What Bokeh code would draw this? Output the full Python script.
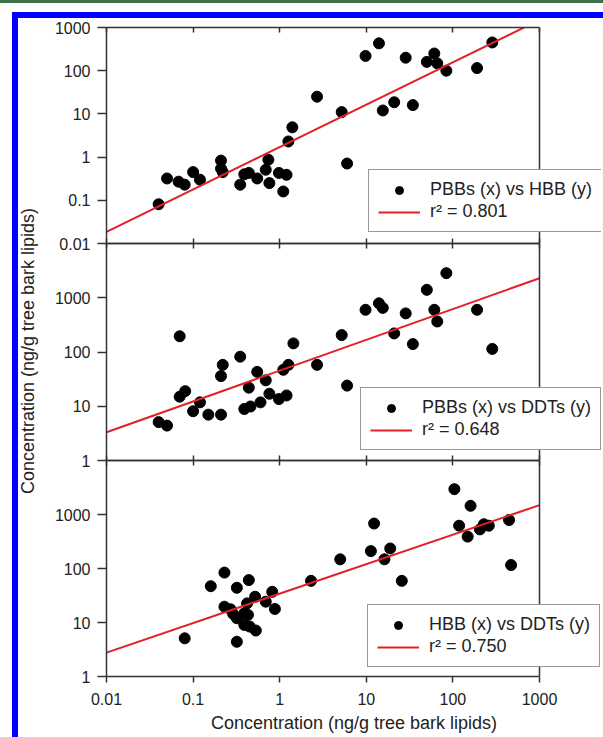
import numpy as np
from bokeh.plotting import figure
from bokeh.models import (Range1d, FixedTicker, LogAxis, CustomJSTickFormatter,
                          Legend, LegendItem, Div, Spacer, Span)
from bokeh.layouts import column, row
from bokeh.embed import file_html
from bokeh.resources import INLINE

# ---------------- data ----------------
X_TICKS = [0.01, 0.1, 1, 10, 100, 1000]
Y1_TICKS = [0.01, 0.1, 1, 10, 100, 1000]
Y23_TICKS = [1, 10, 100, 1000]
X_LIMITS = [0.01, 1000]
Y1_LIMITS = [0.01, 1000]
Y23_LIMITS = [1, 10000]

# Panel 1: PBBs (x) vs HBB (y)
pbb_x1 = [0.040, 0.050, 0.068, 0.080, 0.10, 0.12, 0.21, 0.21, 0.22, 0.35,
          0.39, 0.44, 0.55, 0.69, 0.74, 0.76, 0.98, 1.1, 1.2, 1.26,
          1.4, 2.7, 5.2, 6.0, 9.8, 14, 15.5, 21, 28.5, 34.5,
          50, 61, 66, 84, 190, 285]
hbb_y1 = [0.081, 0.32, 0.27, 0.23, 0.45, 0.30, 0.83, 0.54, 0.45, 0.23,
          0.40, 0.43, 0.32, 0.51, 0.87, 0.25, 0.43, 0.16, 0.39, 2.3,
          4.9, 25, 11, 0.71, 220, 430, 12, 18.6, 200, 16,
          160, 250, 148, 100, 115, 450]

# Panel 2: PBBs (x) vs DDTs (y)
pbb_x2 = [0.040, 0.050, 0.070, 0.070, 0.081, 0.10, 0.12, 0.15, 0.21, 0.22,
          0.21, 0.35, 0.39, 0.44, 0.46, 0.55, 0.60, 0.69, 0.76, 0.98,
          1.1, 1.2, 1.26, 1.44, 2.7, 5.2, 6.0, 9.8, 14, 15.5,
          21, 28.5, 34.5, 50, 61, 66, 84, 190, 285]
ddt_y2 = [5.1, 4.4, 195, 15, 19, 8.1, 11.8, 7.0, 36, 58,
          7.0, 82, 8.9, 22, 9.9, 43, 11.8, 30, 17, 13.6,
          47, 15.8, 58, 144, 58, 205, 24, 600, 790, 650,
          220, 515, 140, 1400, 600, 365, 2840, 600, 114]

# Panel 3: HBB (x) vs DDTs (y)
hbb_x3 = [0.080, 0.16, 0.23, 0.23, 0.27, 0.29, 0.32, 0.32, 0.32, 0.39,
          0.39, 0.42, 0.44, 0.43, 0.45, 0.52, 0.53, 0.69, 0.82, 0.88,
          2.3, 5.0, 11.3, 12.3, 16.2, 18.9, 25.7, 104, 118, 148,
          160, 205, 228, 260, 445, 470]
ddt_y3 = [5.1, 47, 84, 19.6, 17.6, 14.4, 44, 12, 4.4, 14.8,
          9.0, 22.6, 61, 13.8, 8.4, 30, 7.1, 24.3, 37, 17.8,
          59, 148, 210, 680, 148, 235, 59, 2950, 620, 390,
          1450, 530, 660, 620, 790, 116]

# log-log regression lines: log10(y) = intercept + slope * log10(x)
fit_slopes = [0.981, 0.568, 0.546]
fit_intercepts = [0.232, 1.656, 1.535]

series_labels = ["PBBs (x) vs HBB (y)", "PBBs (x) vs DDTs (y)", "HBB (x) vs DDTs (y)"]
r2_labels = ["r\u00b2 = 0.801", "r\u00b2 = 0.648", "r\u00b2 = 0.750"]
axis_title = "Concentration (ng/g tree bark lipids)"

# ---------------- layout / styling constants ----------------
FONT = "Liberation Sans"
TXT = "#222222"
AX = "#333333"
RED = "#e3202a"
BLUE = "#0000ff"
GREEN = "#3c7048"

FIG_W = 563          # figure width
BORDER_L = 68        # left border (tick labels)
DECADE_PX = 86.6     # pixels per x decade in the reference
EXTRA_PX = FIG_W - BORDER_L - DECADE_PX * 5   # frame room right of x=1000 (for legends)
X_VIEW_END = 10 ** (np.log10(X_LIMITS[1]) + EXTRA_PX / DECADE_PX)
OVL = 10             # overlap between stacked canvases

num_fmt = CustomJSTickFormatter(
    code="return tick >= 1 ? tick.toFixed(0) : String(Number(tick.toPrecision(1)));")
blank_fmt = CustomJSTickFormatter(code="return '';")


def style_hidden_axis(ax):
    ax.bounds = tuple(X_LIMITS)
    ax.major_tick_in = 5
    ax.major_tick_out = 0
    ax.minor_tick_line_color = None
    ax.major_label_standoff = 0
    ax.major_label_text_font_size = "0px"
    ax.formatter = blank_fmt
    ax.axis_line_color = AX
    ax.axis_line_width = 1.5
    ax.major_tick_line_color = AX
    ax.major_tick_line_width = 1.5


def make_panel(xs, ys, k, y_limits, y_ticks, height, mb_top, mb_bottom,
               leg_loc, bottom_labels):
    p = figure(width=FIG_W, height=height, x_axis_type="log", y_axis_type="log",
               x_range=Range1d(X_LIMITS[0], X_VIEW_END), y_range=Range1d(*y_limits),
               output_backend="svg", toolbar_location=None,
               min_border_left=BORDER_L, min_border_right=0,
               min_border_top=mb_top, min_border_bottom=mb_bottom,
               background_fill_color=None, border_fill_color=None)
    p.grid.visible = False
    p.outline_line_color = None

    # left y axis
    ya = p.yaxis[0]
    ya.ticker = FixedTicker(ticks=y_ticks, minor_ticks=[])
    ya.formatter = num_fmt
    ya.major_tick_out = 9
    ya.major_tick_in = 0
    ya.minor_tick_line_color = None
    ya.major_label_standoff = 7
    ya.major_label_text_font = FONT
    ya.major_label_text_font_size = "16px"
    ya.major_label_text_color = TXT
    ya.axis_line_color = AX
    ya.axis_line_width = 1.5
    ya.major_tick_line_color = AX
    ya.major_tick_line_width = 1.5

    # bottom x axis
    xa = p.xaxis[0]
    xa.ticker = FixedTicker(ticks=X_TICKS, minor_ticks=[])
    if bottom_labels:
        xa.bounds = tuple(X_LIMITS)
        xa.formatter = num_fmt
        xa.major_tick_out = 6
        xa.major_tick_in = 0
        xa.minor_tick_line_color = None
        xa.major_label_standoff = 10
        xa.major_label_text_font = FONT
        xa.major_label_text_font_size = "16px"
        xa.major_label_text_color = TXT
        xa.axis_line_color = AX
        xa.axis_line_width = 1.5
        xa.major_tick_line_color = AX
        xa.major_tick_line_width = 1.5
        xa.axis_label = axis_title
        xa.axis_label_text_font = FONT
        xa.axis_label_text_font_size = "18px"
        xa.axis_label_text_font_style = "normal"
        xa.axis_label_text_color = TXT
        xa.axis_label_standoff = 5
    else:
        style_hidden_axis(xa)

    # top axis with inward ticks
    top = LogAxis(ticker=FixedTicker(ticks=X_TICKS, minor_ticks=[]))
    style_hidden_axis(top)
    p.add_layout(top, "above")

    # right frame edge at x = 1000
    p.add_layout(Span(location=X_LIMITS[1], dimension="height",
                      line_color=AX, line_width=1.5))

    # points and regression line
    sc = p.scatter(xs, ys, size=11, fill_color="black", line_color="black")
    xf = np.array(X_LIMITS, dtype=float)
    yf = 10 ** (fit_intercepts[k] + fit_slopes[k] * np.log10(xf))
    ln = p.line(xf, yf, line_color=RED, line_width=2)

    leg = Legend(items=[LegendItem(label=series_labels[k], renderers=[sc]),
                        LegendItem(label=r2_labels[k], renderers=[ln])],
                 location=leg_loc)
    leg.label_text_font = FONT
    leg.label_text_font_size = "18px"
    leg.label_text_color = TXT
    leg.border_line_color = AX
    leg.border_line_width = 1.5
    leg.background_fill_color = "white"
    leg.background_fill_alpha = 1.0
    leg.padding = 9
    leg.spacing = 1
    leg.margin = 0
    leg.glyph_width = 42
    leg.glyph_height = 20
    leg.label_height = 20
    leg.label_standoff = 10
    p.add_layout(leg)
    return p


f1 = make_panel(pbb_x1, hbb_y1, 0, Y1_LIMITS, Y1_TICKS, 9 + 216 + OVL, 9, OVL, (262, 11), False)
f2 = make_panel(pbb_x2, ddt_y2, 1, Y23_LIMITS, Y23_TICKS, OVL + 217 + OVL, OVL, OVL, (254, 10), False)
f3 = make_panel(hbb_x3, ddt_y3, 2, Y23_LIMITS, Y23_TICKS, OVL + 216 + 61, OVL, 61, (261, 9), True)
f1.margin = 0
f2.margin = (-2 * OVL, 0, 0, 0)
f3.margin = (-2 * OVL, 0, 0, 0)

title_html = (
    '<div style="width:666px;height:20px;line-height:20px;text-align:center;'
    'white-space:nowrap;transform-origin:0 0;'
    'transform:translateY(666px) rotate(-90deg);'
    "font-family:'Liberation Sans';font-size:18px;color:#222222;\">"
    + axis_title + "</div>")
ytitle = Div(text=title_html, width=20, height=719, margin=0)

green_top = Div(text="", width=603, height=3, margin=0,
                styles={"background-color": GREEN})
blue_left = Div(text="", width=6, height=725, margin=0,
                styles={"background-color": BLUE})
blue_top = Div(text="", width=585, height=6, margin=0,
               styles={"background-color": BLUE})

inner = column(f1, f2, f3, margin=0, spacing=0)
mid = row(ytitle, inner, margin=0, spacing=0)
right = column(blue_top, mid, margin=0, spacing=0)
body = row(Spacer(width=12, height=725, margin=0), blue_left, right,
           margin=0, spacing=0)
layout = column(green_top, Spacer(width=603, height=9, margin=0), body,
                margin=0, spacing=0)

open("out.html", "w").write(file_html(layout, INLINE))
